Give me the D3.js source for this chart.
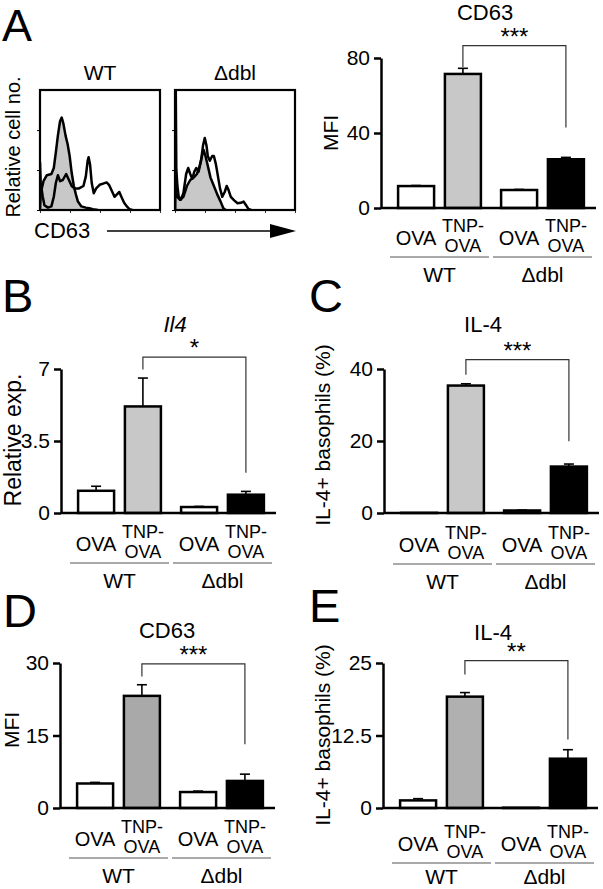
<!DOCTYPE html>
<html>
<head>
<meta charset="utf-8">
<script src="https://cdn.jsdelivr.net/npm/d3@7"></script>
<style>
  body { margin: 0; background: #fff; }
  svg { display: block; font-family: "Liberation Sans", Arial, sans-serif; }
</style>
</head>
<body>
<script>
// categories
const groups = ["WT", "Δdbl"];
const conditions = ["OVA", "TNP-OVA"];

// bar values in order: WT OVA, WT TNP-OVA, Δdbl OVA, Δdbl TNP-OVA
const cd63A = [11.7, 71.5, 9.6, 26];
const cd63ASem = [0.3, 3, 0.3, 1];
const il4B = [1.08, 5.18, 0.29, 0.89];
const il4BSem = [0.22, 1.38, 0.03, 0.16];
const il4C = [0.05, 35.4, 0.7, 12.9];
const il4CSem = [0, 0.5, 0.1, 0.7];
const cd63D = [5.07, 23.2, 3.3, 5.6];
const cd63DSem = [0.23, 2.3, 0.2, 1.4];
const il4E = [1.31, 19.2, 0.05, 8.5];
const il4ESem = [0.3, 0.7, 0, 1.55];

// y tick labels
const ticksA = [0, 40, 80];
const ticksB = [0, 3.5, 7];
const ticksC = [0, 20, 40];
const ticksD = [0, 15, 30];
const ticksE = [0, 12.5, 25];

// significance brackets: [top, left drop, right drop] in data units
const bracketA = [86.6, 75.2, 43];
const bracketB = [7.58, 6.97, 1.96];
const bracketC = [42.6, 38.4, 19.9];
const bracketD = [29.8, 27.2, 13.2];
const bracketE = [25.4, 23, 11.8];

// histograms: [CD63 channel, relative count]
const histWtOva = [[0,0],[6,14],[29,24],[57,29],[95,30],[115,35],[132,48],[149,62],[167,74],[181,77],[195,72],[213,62],[230,55],[247,45],[264,31],[282,20],[299,13],[316,7],[345,3],[382,2],[411,1.4],[440,0.6],[483,0]];
const histWtTnp = [[0,40],[6,22.5],[23,11],[37,4],[66,2],[95,3],[115,11],[132,22.5],[149,29],[167,24],[190,25],[218,30],[241,25],[264,20],[287,18],[325,18],[362,20],[382,28],[397,41],[405,44],[417,38],[431,22.5],[448,14],[468,18],[497,21],[526,22],[555,23],[575,21],[598,16],[621,11],[641,13],[661,15],[678,11],[701,6],[724,3],[747,0.6],[770,0]];
const histDblOva = [[0,0],[3,20],[20,11],[42,8.5],[70,11],[99,20],[127,25],[155,27],[183,30],[206,37],[225,45],[239,50],[254,45],[273,37],[296,27],[324,20],[352,13],[380,7],[403,1.4],[423,0]];
const histDblTnp = [[0,0],[3,150],[11,34],[20,20],[31,11],[48,8.5],[70,14],[93,30],[110,35],[127,30],[144,26],[161,32],[177,35],[197,32],[217,41],[234,54],[248,60],[262,54],[273,45],[290,41],[310,45],[324,45],[341,38],[358,28],[375,18],[394,11],[414,15],[431,20],[445,17],[465,11],[493,8],[521,5.6],[549,6],[572,7],[592,4],[611,1],[634,0]];

const W = 603, H = 889;
const svg = d3.select("body").append("svg").attr("width", W).attr("height", H);

// panel letters
[["A", 2, 41, 45], ["B", 2, 312, 47], ["C", 309, 312, 47], ["D", 3, 627, 47], ["E", 309, 622, 47]].forEach(([t, x, y, fs]) => {
  svg.append("text").attr("x", x).attr("y", y).style("font-size", fs + "px").text(t);
});

// ---------- histograms (panel A left) ----------
const histBoxes = [
  { label: "WT", x0: 40, x1: 160, filled: histWtOva, open: histWtTnp },
  { label: "Δdbl", x0: 175, x1: 295, filled: histDblOva, open: histDblTnp }
];
const hy0 = 90, hy1 = 210;

histBoxes.forEach((b, i) => {
  const x = d3.scaleLinear().domain([0, 1000]).range([b.x0, b.x1]);
  const y = d3.scaleLinear().domain([0, 100]).range([hy1, hy0]);
  const clipId = "clip" + i;
  svg.append("clipPath").attr("id", clipId)
    .append("rect").attr("x", b.x0).attr("y", hy0).attr("width", b.x1 - b.x0).attr("height", hy1 - hy0);

  const g = svg.append("g").attr("clip-path", `url(#${clipId})`);
  const area = d3.area().x(d => x(d[0])).y0(y(0)).y1(d => y(d[1]));
  const line = d3.line().x(d => x(d[0])).y(d => y(d[1]));
  g.append("path").attr("d", area(b.filled)).attr("fill", "#c8c8c8");
  g.append("path").attr("d", line(b.filled)).attr("fill", "none").attr("stroke", "#000").attr("stroke-width", 2.5).attr("stroke-linejoin", "round");
  g.append("path").attr("d", line(b.open)).attr("fill", "none").attr("stroke", "#000").attr("stroke-width", 2.5).attr("stroke-linejoin", "round");

  svg.append("rect").attr("x", b.x0).attr("y", hy0).attr("width", b.x1 - b.x0).attr("height", hy1 - hy0)
    .attr("fill", "none").attr("stroke", "#000").attr("stroke-width", 2.2);

  // left ticks
  svg.append("g").attr("transform", `translate(${b.x0},0)`)
    .call(d3.axisLeft(y).tickValues([0, 33.3, 66.6]).tickSize(3).tickFormat("").tickSizeOuter(0))
    .call(g => g.select(".domain").remove())
    .selectAll("line").attr("stroke-width", 1);

  // log-like bottom ticks
  const lx = d3.scaleLog().domain([1, 10000]).range([b.x0, b.x1]);
  svg.append("g").attr("transform", `translate(0,${hy1})`)
    .call(d3.axisBottom(lx).ticks(4).tickSize(3).tickFormat("").tickSizeOuter(0))
    .call(g => g.select(".domain").remove())
    .selectAll("line").attr("stroke-width", 0.8);

  svg.append("text").attr("x", (b.x0 + b.x1) / 2).attr("y", 80)
    .attr("text-anchor", "middle").style("font-size", "21px").text(b.label);
});

svg.append("text").attr("transform", "translate(20,147) rotate(-90)")
  .attr("text-anchor", "middle").style("font-size", "20px").text("Relative cell no.");
svg.append("text").attr("x", 34).attr("y", 238).style("font-size", "22px").text("CD63");
svg.append("line").attr("x1", 107).attr("x2", 275).attr("y1", 231).attr("y2", 231)
  .attr("stroke", "#000").attr("stroke-width", 1.5);
svg.append("path").attr("d", d3.line()([[270, 224], [296, 231], [270, 238]]) + "Z").attr("fill", "#000");

// ---------- bar panels ----------
const panels = [
  { values: cd63A, sem: cd63ASem, ticks: ticksA, bracket: bracketA, star: "***", title: "CD63", italic: false,
    ylabel: "MFI", ylabelSize: 21, ylx: 338, yly: 133, ax: 381, y0: 208, yTop: 58, tx: 485, ty: 20, gray: "#c8c8c8", shift: -1, gshift: 0 },
  { values: il4B, sem: il4BSem, ticks: ticksB, bracket: bracketB, star: "*", title: "Il4", italic: true,
    ylabel: "Relative exp.", ylabelSize: 23, ylx: 21, yly: 440, ax: 61, y0: 513, yTop: 369, tx: 175, ty: 332, gray: "#c8c8c8", shift: 0, gshift: 0 },
  { values: il4C, sem: il4CSem, ticks: ticksC, bracket: bracketC, star: "***", title: "IL-4", italic: false,
    ylabel: "IL-4+ basophils (%)", ylabelSize: 21, ylx: 330, yly: 435, ax: 384, y0: 513, yTop: 369, tx: 483, ty: 332, gray: "#c8c8c8", shift: 1, gshift: 0 },
  { values: cd63D, sem: cd63DSem, ticks: ticksD, bracket: bracketD, star: "***", title: "CD63", italic: false,
    ylabel: "MFI", ylabelSize: 21, ylx: 19, yly: 730, ax: 60, y0: 808, yTop: 663, tx: 167, ty: 638, gray: "#a9a9a9", shift: 0, gshift: 0 },
  { values: il4E, sem: il4ESem, ticks: ticksE, bracket: bracketE, star: "**", title: "IL-4", italic: false,
    ylabel: "IL-4+ basophils (%)", ylabelSize: 21, ylx: 330, yly: 735, ax: 383, y0: 808, yTop: 663, tx: 493, ty: 640, gray: "#b0b0b0", shift: 5, gshift: -4 }
];

panels.forEach(p => {
  const g = svg.append("g");
  const ymax = p.ticks[p.ticks.length - 1];
  const y = d3.scaleLinear().domain([0, ymax]).range([p.y0, p.yTop]);
  const xg = d3.scaleBand().domain(groups).range([p.ax + 7, p.ax + 213]);
  const xc = d3.scalePoint().domain(conditions).range([0, xg.bandwidth()]).padding(0.6);
  const bw = 36;

  const rows = [];
  groups.forEach((gr, gi) => conditions.forEach((c, ci) => {
    const k = gi * 2 + ci;
    rows.push({ group: gr, cond: c, v: p.values[k], s: p.sem[k], cx: xg(gr) + xc(c),
      fill: ci === 0 ? "#fff" : (gi === 0 ? p.gray : "#000") });
  }));

  // error bars (upward only)
  rows.forEach(d => {
    if (d.s <= 0) return;
    g.append("line").attr("x1", d.cx).attr("x2", d.cx).attr("y1", y(d.v)).attr("y2", y(d.v + d.s))
      .attr("stroke", "#000").attr("stroke-width", 1.6);
    g.append("line").attr("x1", d.cx - 5).attr("x2", d.cx + 5).attr("y1", y(d.v + d.s)).attr("y2", y(d.v + d.s))
      .attr("stroke", "#000").attr("stroke-width", 1.6);
  });

  g.selectAll("rect.bar").data(rows).join("rect")
    .attr("class", "bar")
    .attr("x", d => d.cx - bw / 2)
    .attr("y", d => y(d.v))
    .attr("width", bw)
    .attr("height", d => y(0) - y(d.v))
    .attr("fill", d => d.fill)
    .attr("stroke", "#000")
    .attr("stroke-width", 2.5);

  // x baseline
  g.append("line").attr("x1", p.ax).attr("x2", xg.range()[1] + 2).attr("y1", y(0)).attr("y2", y(0))
    .attr("stroke", "#000").attr("stroke-width", 2.5);

  // y axis
  const ya = g.append("g").attr("transform", `translate(${p.ax},0)`)
    .call(d3.axisLeft(y).tickValues(p.ticks).tickSize(7).tickPadding(4).tickSizeOuter(0).tickFormat(d3.format("")));
  ya.select(".domain").attr("stroke-width", 2.5);
  ya.selectAll(".tick line").attr("stroke-width", 2.5);
  ya.selectAll(".tick text").style("font-size", "21px").attr("fill", "#000")
    .style("font-family", "'Liberation Sans', Arial, sans-serif");

  // title
  g.append("text").attr("x", p.tx).attr("y", p.ty).attr("text-anchor", "middle")
    .style("font-size", "22px").style("font-style", p.italic ? "italic" : "normal").text(p.title);

  // y label
  g.append("text").attr("transform", `translate(${p.ylx},${p.yly}) rotate(-90)`)
    .attr("text-anchor", "middle").style("font-size", p.ylabelSize + "px").text(p.ylabel);

  // bracket
  const bl = rows[1].cx, br = rows[3].cx;
  const [bt, bld, brd] = p.bracket;
  g.append("path").attr("d", d3.line()([[bl, y(bld)], [bl, y(bt)], [br, y(bt)], [br, y(brd)]]))
    .attr("fill", "none").attr("stroke", "#333").attr("stroke-width", 1.2);
  g.append("text").attr("x", (bl + br) / 2).attr("y", y(bt) - 1).attr("text-anchor", "middle")
    .style("font-size", "24px").text(p.star);

  // category labels
  const base = p.y0 + p.shift;
  rows.forEach(d => {
    if (d.cond === "OVA") {
      g.append("text").attr("x", d.cx).attr("y", base + 38).attr("text-anchor", "middle")
        .style("font-size", "20px").text("OVA");
    } else {
      g.append("text").attr("x", d.cx).attr("y", base + 25).attr("text-anchor", "middle")
        .style("font-size", "18px").text("TNP-");
      g.append("text").attr("x", d.cx).attr("y", base + 45).attr("text-anchor", "middle")
        .style("font-size", "18px").text("OVA");
    }
  });

  groups.forEach(gr => {
    g.append("line").attr("x1", xg(gr) + 2).attr("x2", xg(gr) + xg.bandwidth() - 2)
      .attr("y1", base + 50).attr("y2", base + 50).attr("stroke", "#555").attr("stroke-width", 1);
    g.append("text").attr("x", xg(gr) + xg.bandwidth() / 2).attr("y", base + 75 + p.gshift).attr("text-anchor", "middle")
      .style("font-size", "21px").text(gr);
  });
});
</script>
</body>
</html>
